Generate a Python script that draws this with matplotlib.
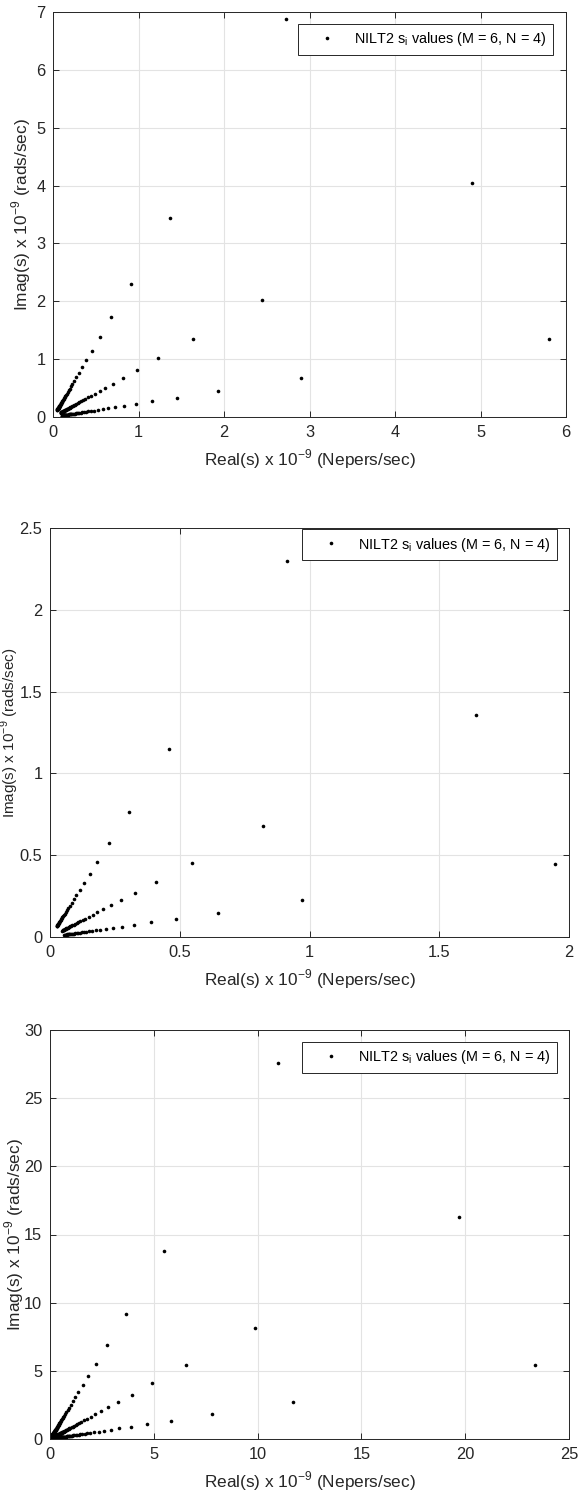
import numpy as np
import matplotlib
matplotlib.use("Agg")
import matplotlib.pyplot as plt
from matplotlib.ticker import FuncFormatter

plt.rcParams['font.family'] = ['Liberation Sans', 'DejaVu Sans']

# outermost s_i value of each of the three rays,
# the other points of a ray sit at s_first / k, k = 1..n_points
p1_re = [2.73, 4.90, 5.80]
p1_im = [6.88, 4.05, 1.34]
p1_n = 55

p2_re = [0.914, 1.640, 1.946]
p2_im = [2.296, 1.356, 0.449]
p2_n = 35

p3_re = [10.96, 19.71, 23.37]
p3_im = [27.56, 16.29, 5.41]
p3_n = 200

p1_xticks = [0, 1, 2, 3, 4, 5, 6]
p1_yticks = [0, 1, 2, 3, 4, 5, 6, 7]
p2_xticks = [0, 0.5, 1, 1.5, 2]
p2_yticks = [0, 0.5, 1, 1.5, 2, 2.5]
p3_xticks = [0, 5, 10, 15, 20, 25]
p3_yticks = [0, 5, 10, 15, 20, 25, 30]

legend_label = 'NILT2 s$_\\mathregular{i}$ values (M = 6, N = 4)'
xlab = 'Real(s) x 10$^\\mathregular{-9}$ (Nepers/sec)'
ylab = 'Imag(s) x 10$^\\mathregular{-9}$ (rads/sec)'

dark = '#262626'
W, H = 580, 1498
fig = plt.figure(figsize=(W / 100, H / 100), dpi=100)

# axes boxes in pixels: left, top, right, bottom
boxes = [(53, 12, 566, 417), (50, 528, 569, 937), (50, 1030, 569, 1439)]
panels = [(p1_re, p1_im, p1_n, p1_xticks, p1_yticks),
          (p2_re, p2_im, p2_n, p2_xticks, p2_yticks),
          (p3_re, p3_im, p3_n, p3_xticks, p3_yticks)]
leg_anchor = [(553, 24), (557, 529), (557, 1042)]
ylab_right = [33, 21, 26]      # right edge of the rotated y label, pixels
ylab_size = [12.4, 11.0, 12.4]

for i, ((l, t, r, b), (re, im, n, xt, yt), (lx, ly)) in enumerate(zip(boxes, panels, leg_anchor)):
    ax = fig.add_axes([l / W, 1 - b / H, (r - l) / W, (b - t) / H])
    k = np.arange(1, n + 1)
    xs = np.concatenate([re[j] / k for j in range(3)])
    ys = np.concatenate([im[j] / k for j in range(3)])
    ax.plot(xs, ys, 'o', color='black', markersize=2.6, markeredgewidth=0,
            label=legend_label)
    ax.set_xlim(xt[0], xt[-1])
    ax.set_ylim(yt[0], yt[-1])
    ax.set_xticks(xt)
    ax.set_yticks(yt)
    fmt = FuncFormatter(lambda v, p: '%g' % v)
    ax.xaxis.set_major_formatter(fmt)
    ax.yaxis.set_major_formatter(fmt)
    ax.grid(True, color='#e3e3e3', linewidth=0.8)
    ax.set_axisbelow(True)
    ax.tick_params(direction='in', top=True, right=True, length=4,
                   width=0.7, colors=dark, labelsize=11.8)
    ax.tick_params(axis='x', pad=6)
    ax.tick_params(axis='y', pad=5.5)
    for s in ax.spines.values():
        s.set_color(dark)
        s.set_linewidth(0.7)
    ax_w, ax_h = r - l, b - t
    ax.set_xlabel(xlab, fontsize=12.4, color=dark, labelpad=5)
    ax.set_ylabel(ylab, fontsize=ylab_size[i], color=dark)
    ax.yaxis.set_label_coords((ylab_right[i] - l) / ax_w, 0.5)
    leg = ax.legend(loc='upper right',
                    bbox_to_anchor=((lx - l) / ax_w, 1 - (ly - t) / ax_h),
                    borderaxespad=0, fancybox=False, framealpha=1,
                    edgecolor=dark, fontsize=10.4, handlelength=3.0,
                    handletextpad=0.4, borderpad=0.45, markerscale=1.0)
    leg.get_frame().set_linewidth(0.7)
    for txt in leg.get_texts():
        txt.set_color('black')

fig.savefig('out.png', dpi=100)
